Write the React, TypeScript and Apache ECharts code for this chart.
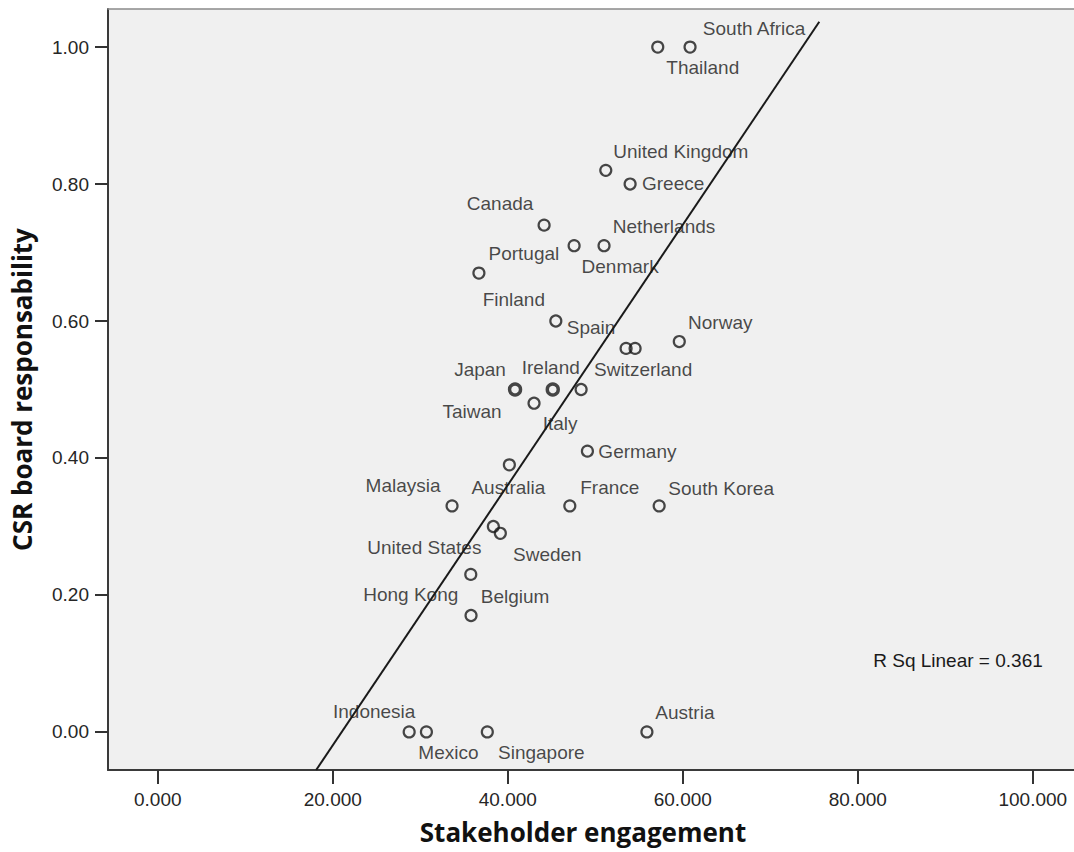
import React, { useEffect, useRef } from 'react';
import * as echarts from 'echarts';

// ---------- data ----------
const COUNTRIES = [
  'Thailand', 'South Africa', 'United Kingdom', 'Greece', 'Canada', 'Denmark',
  'Netherlands', 'Portugal', 'Finland', 'Spain', 'Switzerland', 'Norway',
  'Japan', 'Ireland', 'Italy', 'Taiwan', 'Germany', 'Australia', 'Malaysia',
  'France', 'South Korea', 'United States', 'Sweden', 'Hong Kong', 'Belgium',
  'Indonesia', 'Mexico', 'Singapore', 'Austria',
];
const STAKEHOLDER_ENGAGEMENT = [
  57.14, 60.83, 51.2, 53.98, 44.15, 47.58,
  51.0, 36.7, 45.49, 53.52, 54.55, 59.6,
  40.83, 45.14, 48.38, 43.0, 49.1, 40.18, 33.63,
  47.09, 57.3, 38.35, 39.15, 35.77, 35.8,
  28.73, 30.7, 37.66, 55.9,
];
const CSR_BOARD = [
  1.0, 1.0, 0.82, 0.8, 0.74, 0.71,
  0.71, 0.67, 0.6, 0.56, 0.56, 0.57,
  0.5, 0.5, 0.5, 0.48, 0.41, 0.39, 0.33,
  0.33, 0.33, 0.3, 0.29, 0.23, 0.17,
  0, 0, 0, 0,
];
const X_TICKS = [0, 20, 40, 60, 80, 100];
const Y_TICKS = [0, 0.2, 0.4, 0.6, 0.8, 1.0];
const X_RANGE = [-5.69, 104.71];
const Y_RANGE = [-0.0556, 1.0556];
const FIT_INTERCEPT = -0.3995;
const FIT_SLOPE = 0.019;
const FIT_X_ENDS = [18.1, 75.6];
const R_SQ_LINEAR = 0.361;

// ---------- layout / style ----------
const LABEL_OFFSETS: [number, number][] = [
  [45, 20], [64, -19], [75, -19], [43, -1], [-44, -22], [46, 21],
  [60, -19], [45, -20], [-42, -22], [-35, -21], [8, 21], [41, -19],
  [-35, -20], [-2, -22], [-21, 34], [-62, 8], [50, 0], [-1, 23], [-49, -20],
  [40, -18], [62, -17], [-69, 21], [47, 21], [-60, 20], [44, -19],
  [-35, -20], [22, 21], [54, 21], [38, -19],
];
const HEAVY_MARKERS = ['Japan', 'Ireland'];
const INK = '#1a1a1a';

export default function App() {
  const ref = useRef<HTMLDivElement>(null);

  useEffect(() => {
    if (!ref.current) return;
    const chart = echarts.init(ref.current, null, { renderer: 'svg' });

    const points = COUNTRIES.map((name, i) => ({
      name,
      value: [STAKEHOLDER_ENGAGEMENT[i], CSR_BOARD[i]],
      itemStyle: { borderWidth: HEAVY_MARKERS.includes(name) ? 3.4 : 2.2 },
    }));

    const fitLine = FIT_X_ENDS.map((x) => [x, FIT_INTERCEPT + FIT_SLOPE * x]);

    const tickLabelStyle = {
      fontSize: 19,
      fontFamily: '"Liberation Sans", Arial, sans-serif',
      color: '#262626',
    };
    const titleStyle = {
      fontFamily: '"Open Sans", sans-serif',
      fontWeight: 'bold' as const,
      fontSize: 26,
      color: '#111',
    };

    chart.setOption({
      animation: false,
      backgroundColor: '#ffffff',
      grid: {
        left: 108,
        top: 9,
        right: 0,
        bottom: 82,
        show: true,
        backgroundColor: '#F0F0F0',
        borderWidth: 0,
      },
      xAxis: [
        {
          type: 'value',
          min: X_RANGE[0],
          max: X_RANGE[1],
          name: 'Stakeholder engagement',
          nameLocation: 'middle',
          nameGap: 49,
          nameTextStyle: { ...titleStyle, padding: [0, 16, 0, 0] },
          axisLine: { show: true, onZero: false, lineStyle: { color: '#3a3a3a', width: 2 } },
          axisTick: { show: true, customValues: X_TICKS, length: 14, lineStyle: { color: '#333', width: 2 } },
          axisLabel: {
            ...tickLabelStyle,
            customValues: X_TICKS,
            margin: 20,
            formatter: (v: number) => v.toFixed(3),
          },
          splitLine: { show: false },
        },
        {
          type: 'value',
          position: 'top',
          min: X_RANGE[0],
          max: X_RANGE[1],
          axisLine: { show: true, onZero: false, lineStyle: { color: '#8a8a8a', width: 1.5 } },
          axisTick: { show: false },
          axisLabel: { show: false },
          splitLine: { show: false },
        },
      ],
      yAxis: {
        type: 'value',
        min: Y_RANGE[0],
        max: Y_RANGE[1],
        name: 'CSR board responsability',
        nameLocation: 'middle',
        nameGap: 73,
        nameRotate: 90,
        nameTextStyle: titleStyle,
        axisLine: { show: true, onZero: false, lineStyle: { color: '#3a3a3a', width: 2 } },
        axisTick: { show: true, customValues: Y_TICKS, length: 13, lineStyle: { color: '#333', width: 2 } },
        axisLabel: {
          ...tickLabelStyle,
          customValues: Y_TICKS,
          margin: 19,
          formatter: (v: number) => v.toFixed(2),
        },
        splitLine: { show: false },
      },
      series: [
        {
          type: 'line',
          xAxisIndex: 0,
          data: fitLine,
          symbol: 'none',
          lineStyle: { color: INK, width: 2 },
          silent: true,
          z: 3,
        },
        {
          type: 'scatter',
          xAxisIndex: 0,
          data: points,
          symbol: 'circle',
          symbolSize: 11,
          itemStyle: { color: 'rgba(0,0,0,0)', borderColor: INK, borderWidth: 2.2 },
          label: {
            show: true,
            formatter: '{b}',
            position: 'inside',
            align: 'center',
            verticalAlign: 'middle',
            color: INK,
            fontSize: 19,
            fontFamily: '"Liberation Sans", Arial, sans-serif',
          },
          labelLayout: (params: any) => ({
            dx: LABEL_OFFSETS[params.dataIndex][0],
            dy: LABEL_OFFSETS[params.dataIndex][1],
            hideOverlap: false,
          }),
          z: 2,
        },
      ],
      graphic: [
        {
          type: 'text',
          x: 958,
          y: 660,
          style: {
            text: `R Sq Linear = ${R_SQ_LINEAR.toFixed(3)}`,
            fill: INK,
            font: '19px "Liberation Sans", Arial, sans-serif',
            align: 'center',
            verticalAlign: 'middle',
            textAlign: 'center',
            textVerticalAlign: 'middle',
          },
        },
      ],
    });

    return () => chart.dispose();
  }, []);

  return (
    <div
      ref={ref}
      style={{ position: 'fixed', left: 0, top: 0, width: 1074, height: 852, background: '#fff' }}
    />
  );
}
